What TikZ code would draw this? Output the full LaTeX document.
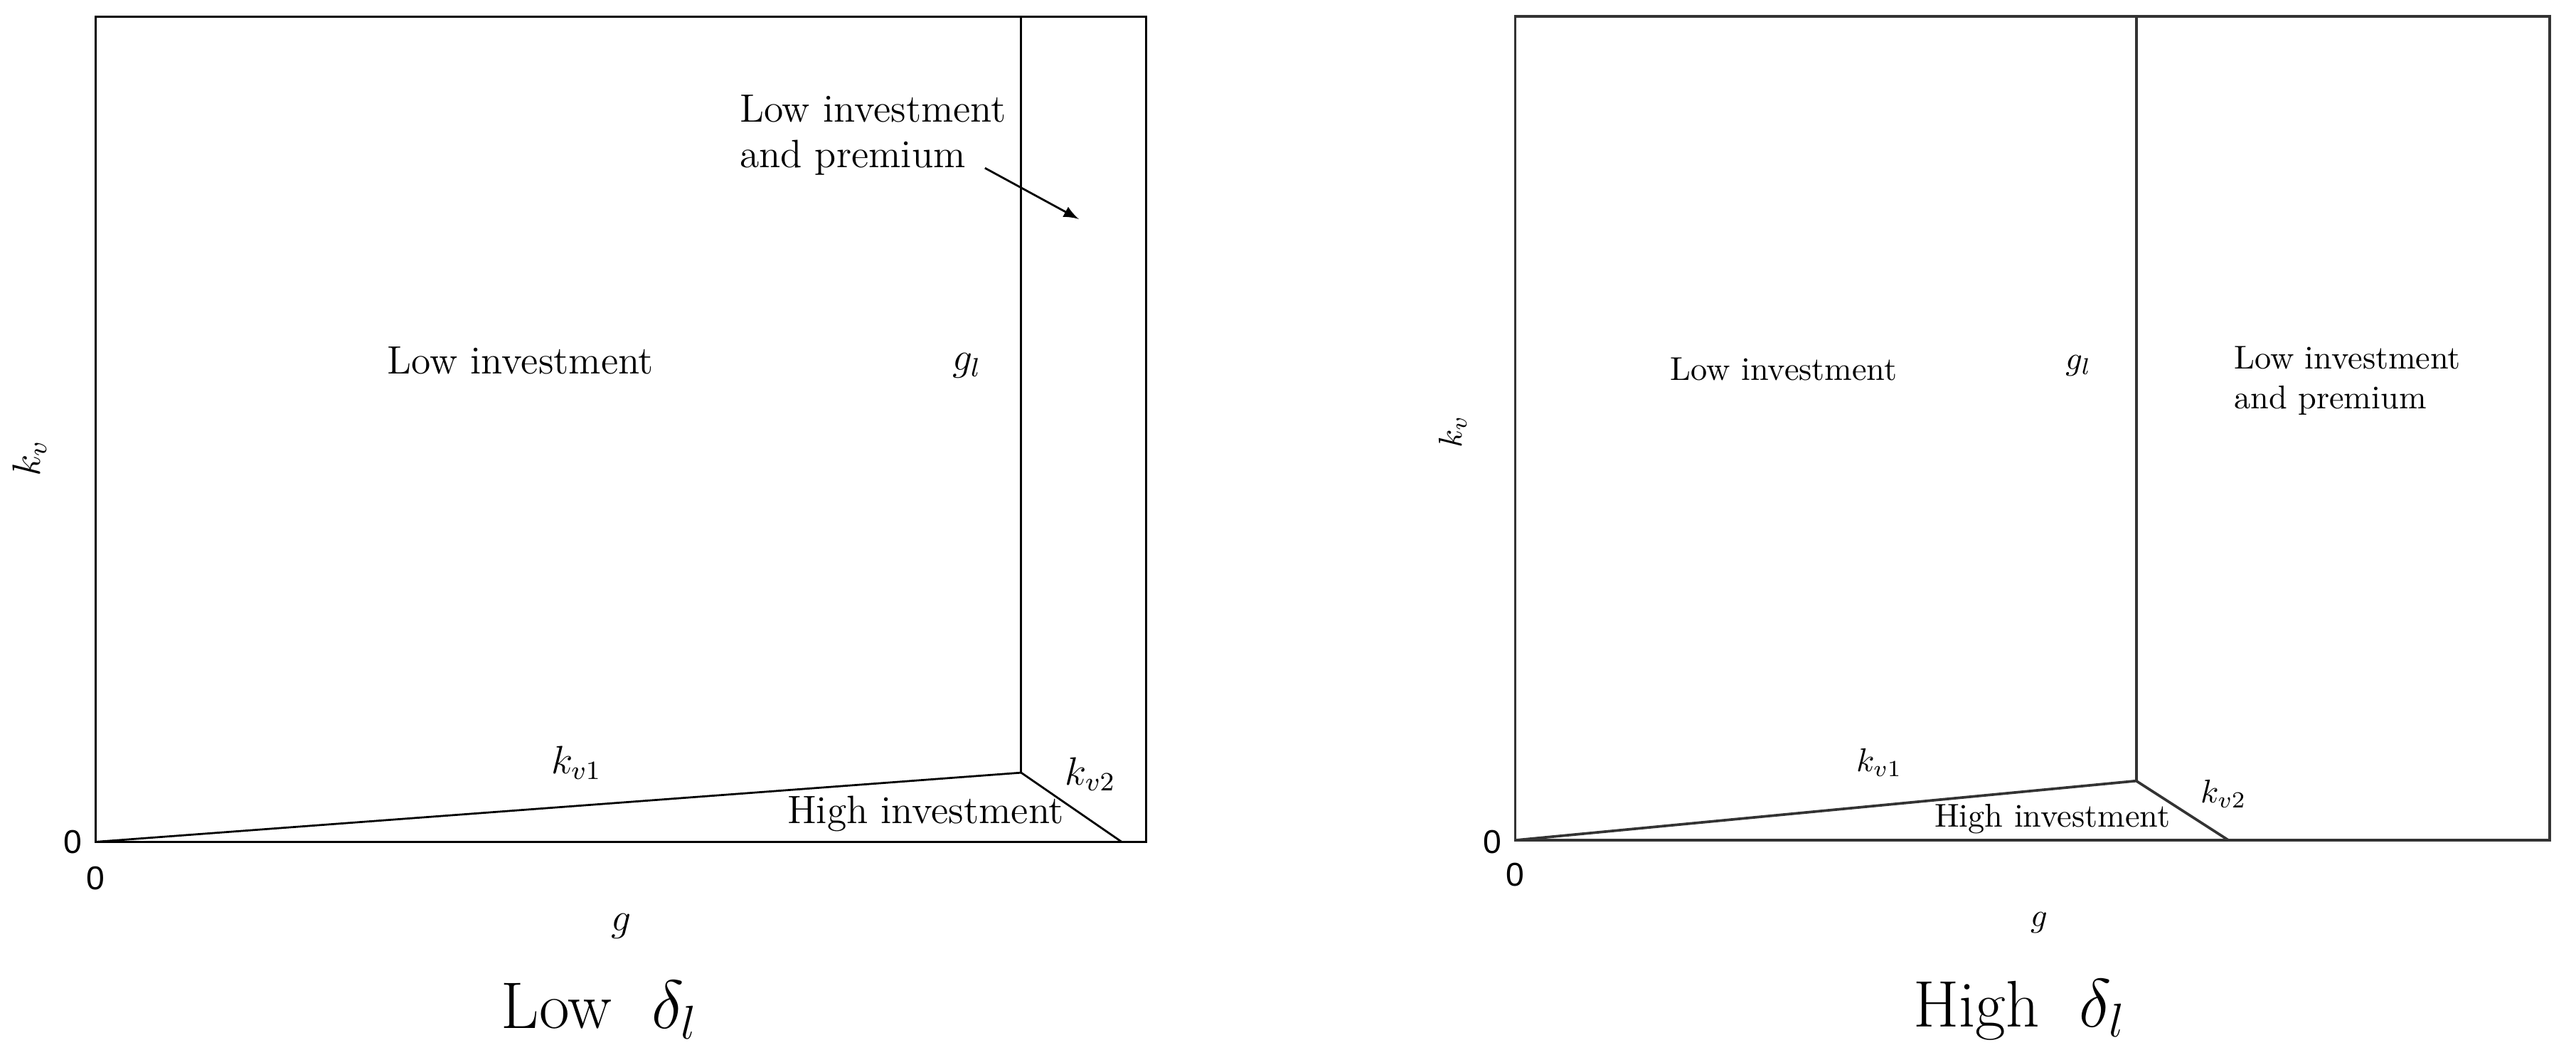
\documentclass[tikz,border=0pt]{standalone}
\usepackage{fontspec}
\newfontfamily\arial{Liberation Sans}
\begin{document}
\begin{tikzpicture}[x=0.5pt,y=-0.5pt,
  ln/.style={line width=0.6pt},
  lnr/.style={line width=0.8pt,draw=black!80},
  lab/.style={font=\fontsize{12}{14}\selectfont,inner sep=0pt},
  labr/.style={font=\fontsize{10}{12}\selectfont,inner sep=0pt},
  ax/.style={font=\arial\fontsize{10}{12}\selectfont,inner sep=0pt},
  captxt/.style={font=\fontsize{20}{22}\selectfont,inner sep=0pt}]
\useasboundingbox (0,0) rectangle (1564,640);
% left panel
\coordinate (LO) at (58,511); \coordinate (LM) at (620,469); \coordinate (LB) at (681,511);
\draw[ln] (58,10) rectangle (696,511);
\draw[ln] (620,10) -- (LM);
\draw[ln] (LO) -- (LM) -- (LB);
\node[lab] (l1) at (316,219) {Low investment};
\node[lab] (l2) at (587,222) {$g_l$};
\node[lab] (l3) at (350,463) {$k_{v1}$};
\node[lab] (l4) at (662,470) {$k_{v2}$};
\node[lab] (l5) at (562,494) {High investment};
\node[lab,align=left] (l6) at (530,82) {Low investment\\and premium};
\coordinate (la) at (655,133);
\draw[ln,-latex] (598,102) -- (la);
\node[ax] (z1) at (44,511) {0};
\node[ax] (z2) at (58,533) {0};
\node[lab] (g1) at (377,562) {$g$};
\node[lab,rotate=90] (k1) at (18,278) {$k_v$};
\node[captxt] (c1) at (364,613) {Low\ \ $\delta_l$};
% right panel
\coordinate (RO) at (920,510); \coordinate (RM) at (1297,474); \coordinate (RB) at (1353,510);
\draw[lnr] (920,10) rectangle (1548,510);
\draw[lnr] (1297,10) -- (RM);
\draw[lnr] (RO) -- (RM) -- (RB);
\node[labr] (r1) at (1083,224) {Low investment};
\node[labr] (r2) at (1262,222) {$g_l$};
\node[labr,align=left,anchor=west] (r3) at (1356,231) {Low investment\\and premium};
\node[labr] (r4) at (1141,463) {$k_{v1}$};
\node[labr] (r5) at (1350,482) {$k_{v2}$};
\node[labr] (r6) at (1246,497) {High investment};
\node[ax] (z3) at (906,511) {0};
\node[ax] (z4) at (920,531) {0};
\node[labr] (g2) at (1238,560) {$g$};
\node[labr,rotate=90] (k2) at (882,262) {$k_v$};
\node[captxt] (c2) at (1226,613) {High\ \ $\delta_l$};
\end{tikzpicture}
\end{document}
